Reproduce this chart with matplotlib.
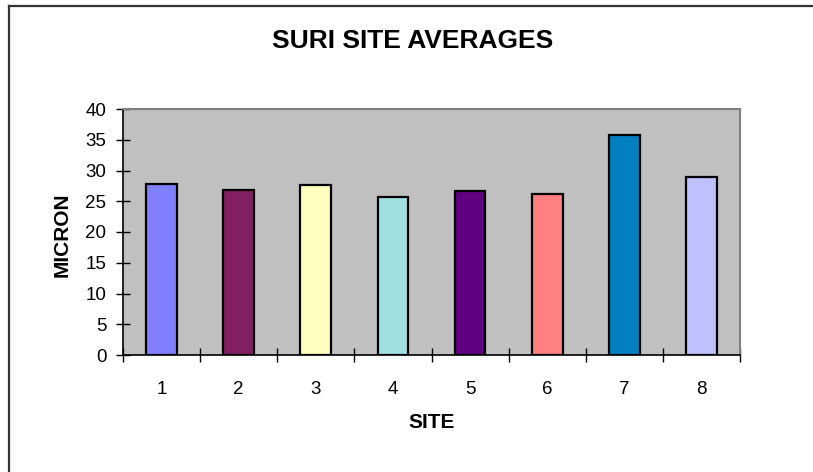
import matplotlib
matplotlib.use("Agg")
import matplotlib.pyplot as plt
from matplotlib.lines import Line2D

plt.rcParams['font.family'] = ['Liberation Sans', 'DejaVu Sans']

# site averages
sites = ['1', '2', '3', '4', '5', '6', '7', '8']
micron = [27.8, 26.9, 27.6, 25.7, 26.7, 26.2, 35.8, 28.9]
colors = ['#8080FF', '#802060', '#FFFFC0', '#A0E0E0',
          '#600080', '#FF8080', '#0080C0', '#C0C0FF']

fig = plt.figure(figsize=(8.13, 4.72), dpi=100)
ax = fig.add_axes([123 / 813, 1 - 355 / 472, 617 / 813, 246 / 472])
ax.set_facecolor('#C0C0C0')

x = list(range(len(sites)))
ax.bar(x, micron, width=0.4, color=colors, edgecolor='black', linewidth=1.6, zorder=3)

ax.set_xlim(-0.5, len(sites) - 0.5)
ax.set_ylim(0, 40)
ax.set_yticks(range(0, 41, 5))

# category labels in the middle, tick marks between categories
ax.set_xticks(x)
ax.set_xticklabels(sites)
ax.set_xticks([i - 0.5 for i in range(len(sites) + 1)], minor=True)
ax.tick_params(axis='x', which='major', length=0, pad=19, labelsize=13.5)
ax.tick_params(axis='x', which='minor', direction='inout', length=10, width=1, color='black')
ax.tick_params(axis='y', direction='inout', length=10, width=1, pad=7, labelsize=13.5)

for side in ['top', 'right']:
    ax.spines[side].set_color('#808080')
    ax.spines[side].set_linewidth(1.5)
for side in ['left', 'bottom']:
    ax.spines[side].set_color('black')
    ax.spines[side].set_linewidth(1.2)

ax.set_xlabel('SITE', fontsize=15, fontweight='bold')
ax.xaxis.set_label_coords(0.5, -0.276)
ax.xaxis.label.set_va('center')
ax.set_ylabel('MICRON', fontsize=15, fontweight='bold')
ax.yaxis.set_label_coords(-0.099, 0.49)
ax.yaxis.label.set_va('center')

fig.text(413 / 813, 1 - 48 / 472, 'SURI SITE AVERAGES', ha='center', va='baseline',
         fontsize=19, fontweight='bold')

# chart frame (only top and left edges show in the picture)
fig.add_artist(Line2D([9 / 813, 9 / 813], [0, 1 - 6 / 472], color='#333333', linewidth=1.6))
fig.add_artist(Line2D([9 / 813, 1], [1 - 6 / 472, 1 - 6 / 472], color='#333333', linewidth=1.6))

fig.savefig('out.png', dpi=100)
